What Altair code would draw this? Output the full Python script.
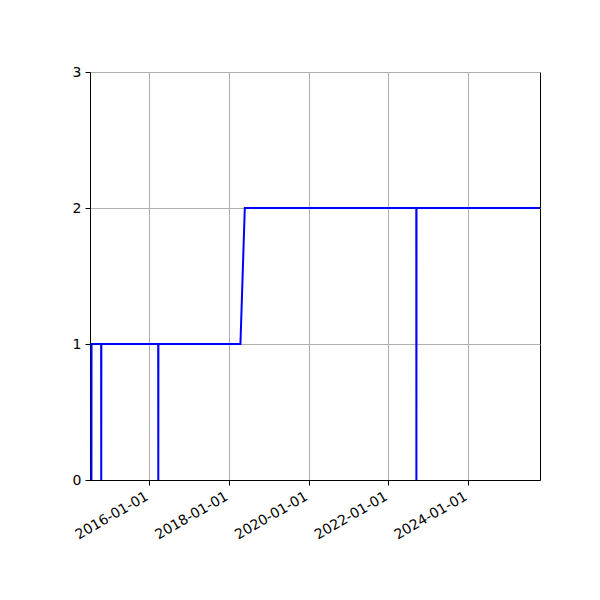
import altair as alt
import pandas as pd

dates = ["2014-07-19", "2014-07-20", "2014-10-16", "2014-10-17", "2014-10-18",
         "2016-03-22", "2016-03-23", "2016-03-24", "2018-04-15", "2018-05-25",
         "2022-09-13", "2022-09-14", "2022-09-15", "2025-10-21"]
values = [0, 1, 1, 0, 1, 1, 0, 1, 1, 2, 2, 0, 2, 2]

x_ticks = ["2016-01-01", "2018-01-01", "2020-01-01", "2022-01-01", "2024-01-01"]
y_ticks = [0, 1, 2, 3]

df = pd.DataFrame({"date": pd.to_datetime(dates), "value": values})

tick_vals = [alt.DateTime(year=int(t[:4]), month=1, date=1) for t in x_ticks]

chart = alt.Chart(df).mark_line(color="#0000ff", strokeWidth=2, clip=True).encode(
    x=alt.X("date:T",
            scale=alt.Scale(domain=[alt.DateTime(year=2014, month=7, date=6),
                                    alt.DateTime(year=2025, month=10, date=21)], nice=False),
            axis=alt.Axis(values=tick_vals, format="%Y-%m-%d", labelAngle=330,
                          labelAlign="right", labelBaseline="top", labelOffset=-6,
                          title=None)),
    y=alt.Y("value:Q", scale=alt.Scale(domain=[0, 3], nice=False),
            axis=alt.Axis(values=y_ticks, format="d", title=None)),
).properties(
    width=450, height=408,
    autosize=alt.AutoSizeParams(type="none"),
    padding={"left": 82, "top": 64, "right": 50, "bottom": 100},
).configure_view(
    stroke="black", strokeWidth=1
).configure_axis(
    domainColor="black", domainWidth=1, tickColor="black", tickSize=5, tickWidth=1,
    labelFont="DejaVu Sans", labelFontSize=14, labelColor="black", labelPadding=4,
    grid=True, gridColor="#b0b0b0", gridWidth=1.1,
)

chart.save("out.html", embed_options={"renderer": "svg", "actions": False})
